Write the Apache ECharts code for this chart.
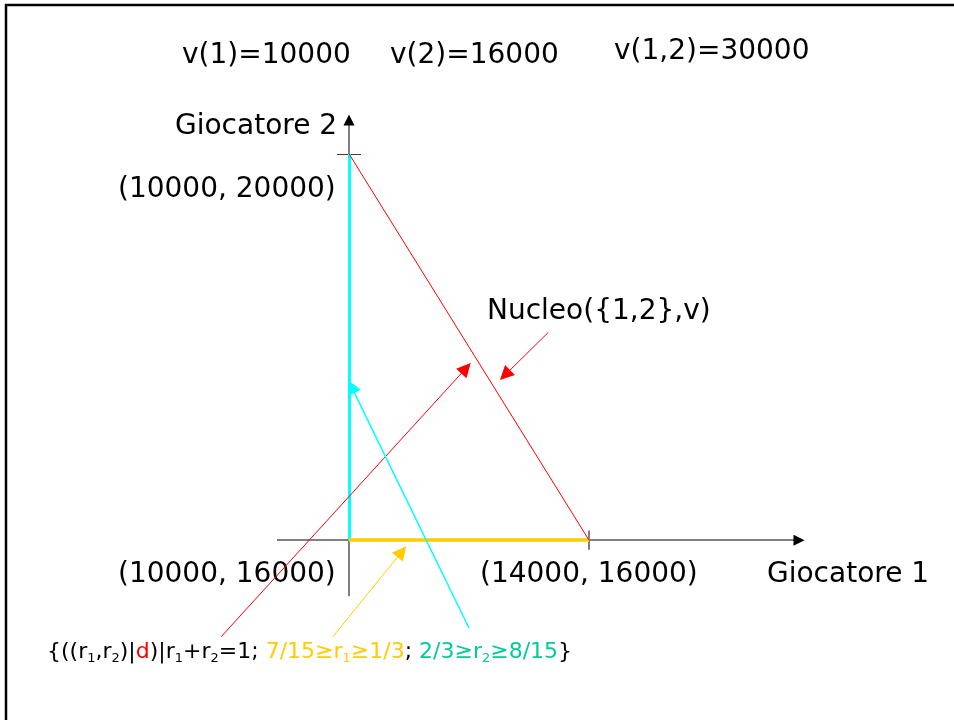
<!DOCTYPE html>
<html>
<head>
<meta charset="utf-8">
<title>Nucleo</title>
<script src="https://cdn.jsdelivr.net/npm/echarts@6/dist/echarts.min.js"></script>
<style>
    html, body { margin: 0; padding: 0; background: #fff; overflow: hidden; }
    #chart { width: 954px; height: 720px; }
</style>
</head>
<body>
<div id="chart"></div>
<script>
// valori del gioco
const gameValues = ['v(1)=10000', 'v(2)=16000', 'v(1,2)=30000']

// vertici del nucleo (giocatore 1, giocatore 2)
const origin = [10000, 16000]
const topVertex = [10000, 20000]
const rightVertex = [14000, 16000]

// assi e tacche
const axisX = [[8800, 16000], [17500, 16000]]
const axisY = [[10000, 15420], [10000, 20350]]
const arrowTipX = [[17400, 16000], [17500, 16000]]
const arrowTipY = [[10000, 20300], [10000, 20350]]
const tickTop = [[9800, 20000], [10200, 20000]]
const tickRight = [[14000, 15900], [14000, 16100]]

// frecce (coda, punta)
const arrowRed = [[7870, 15000], [11950, 17780]]
const arrowYellow = [[9730, 15000], [10880, 15880]]
const arrowCyan = [[12000, 15090], [10040, 17590]]
const arrowNucleo = [[13320, 18150], [12600, 17710]]

// etichette
const vertexLabels = ['(10000, 20000)', '(10000, 16000)', '(14000, 16000)']
const axisNames = ['Giocatore 1', 'Giocatore 2']
const coreName = 'Nucleo({1,2},v)'

const font28 = '28px "DejaVu Sans"'

function segment(name, coords, color, width, arrow, size, z) {
    return {
        name: name,
        type: 'lines',
        coordinateSystem: 'cartesian2d',
        z: z || 2,
        symbol: arrow ? ['none', 'triangle'] : ['none', 'none'],
        symbolSize: size || 12,
        lineStyle: { color: color, width: width, opacity: 1, curveness: 0 },
        data: [{ coords: coords }],
        silent: true,
    }
}

function label(text, x, y) {
    return {
        type: 'text',
        x: x,
        y: y,
        style: { text: text, font: font28, fill: '#000', verticalAlign: 'middle' },
    }
}

const sub = { fontSize: 13, fontFamily: 'DejaVu Sans', lineHeight: 12, verticalAlign: 'bottom' }
const main = { fontSize: 22, fontFamily: 'DejaVu Sans', lineHeight: 26 }

const chart = echarts.init(document.getElementById('chart'))
chart.setOption({
    animation: false,
    backgroundColor: '#fff',
    grid: { left: 49, right: 5, top: 9, bottom: 35 },
    xAxis: { type: 'value', min: 5000, max: 20000, show: false },
    yAxis: { type: 'value', min: 14500, max: 21500, show: false },
    series: [
        segment('asseX', axisX, '#808080', 2, false, 0, 1),
        segment('asseY', axisY, '#808080', 2, false, 0, 1),
        segment('puntaX', arrowTipX, '#000', 1, true, 11, 1),
        segment('puntaY', arrowTipY, '#000', 1, true, 11, 1),
        segment('tacca1', tickTop, '#404040', 1, false, 0, 1),
        segment('tacca2', tickRight, '#808080', 2, false, 0, 1),
        segment('r2', [origin, topVertex], '#00ffff', 3, false, 0, 3),
        segment('r1', [origin, rightVertex], '#ffcc00', 3.5, false, 0, 3),
        segment('nucleo', [topVertex, rightVertex], '#ff0000', 1, false, 0, 3),
        segment('frecciaRossa', arrowRed, '#ff0000', 1, true, 14, 4),
        segment('frecciaGialla', arrowYellow, '#ffcc00', 1, true, 14, 4),
        segment('frecciaCiano', arrowCyan, '#00ffff', 1.5, true, 14, 4),
        segment('frecciaNucleo', arrowNucleo, '#ff0000', 1, true, 14, 4),
    ],
    graphic: [
        // cornice: solo bordo sinistro e superiore
        {
            type: 'line',
            shape: { x1: 6, y1: 4, x2: 6, y2: 720 },
            style: { stroke: '#000', lineWidth: 2.5 },
        },
        {
            type: 'line',
            shape: { x1: 5, y1: 5, x2: 954, y2: 5 },
            style: { stroke: '#000', lineWidth: 2.5 },
        },
        label(gameValues[0], 182, 56),
        label(gameValues[1], 390, 56),
        label(gameValues[2], 614, 52),
        label(axisNames[1], 175, 127),
        label(vertexLabels[0], 118, 190),
        label(coreName, 487, 312),
        label(vertexLabels[1], 118, 575),
        label(vertexLabels[2], 480, 575),
        label(axisNames[0], 767, 575),
        {
            type: 'text',
            x: 47,
            y: 652,
            style: {
                text: '{k|{((r}{ks|1}{k|,r}{ks|2}{k|)|}{r|d}{k|)|r}{ks|1}{k|+r}{ks|2}{k|=1; }'
                    + '{y|7/15≥r}{ys|1}{y|≥1/3}{k|; }{g|2/3≥r}{gs|2}{g|≥8/15}{k|\u007d}',
                font: '22px "DejaVu Sans"',
                fill: '#000',
                verticalAlign: 'middle',
                rich: {
                    k: Object.assign({ fill: '#000' }, main),
                    ks: Object.assign({ fill: '#000' }, sub),
                    r: Object.assign({ fill: '#ff0000' }, main),
                    y: Object.assign({ fill: '#ffcc00' }, main),
                    ys: Object.assign({ fill: '#ffcc00' }, sub),
                    g: Object.assign({ fill: '#00cc99' }, main),
                    gs: Object.assign({ fill: '#00cc99' }, sub),
                },
            },
        },
    ],
})
</script>
</body>
</html>
